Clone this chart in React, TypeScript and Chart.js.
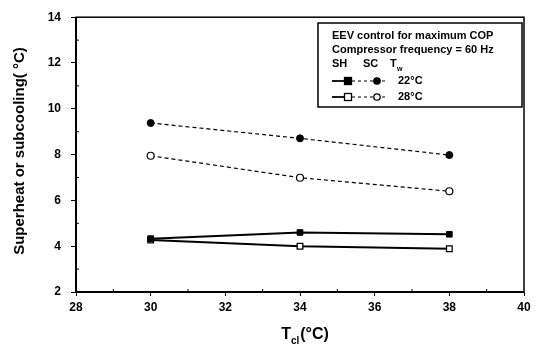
import React, { useEffect, useRef } from "react";
import { Chart, registerables } from "chart.js";

Chart.register(...registerables);

const xValues = [30, 34, 38];
const sh22 = [4.33, 4.6, 4.52];
const sc22 = [9.38, 8.71, 7.98];
const sh28 = [4.27, 4.0, 3.89];
const sc28 = [7.95, 6.99, 6.4];
const xTicks = [28, 30, 32, 34, 36, 38, 40];
const yTicks = [2, 4, 6, 8, 10, 12, 14];
const legendTitle1 = "EEV control for maximum COP";
const legendTitle2 = "Compressor frequency = 60 Hz";
const legendLabels = ["22°C", "28°C"];

const FONT = "'Liberation Sans', Arial, sans-serif";

const decorPlugin = {
  id: "decor",
  afterDraw(chart: any) {
    const ctx = chart.ctx;
    const ca = chart.chartArea;
    const xs = chart.scales.x;
    const ys = chart.scales.y;
    ctx.save();
    // frame
    ctx.strokeStyle = "#000";
    ctx.lineWidth = 1.5;
    ctx.strokeRect(ca.left, ca.top, ca.right - ca.left, ca.bottom - ca.top);
    ctx.lineWidth = 2;
    ctx.beginPath();
    ctx.moveTo(ca.left, ca.top);
    ctx.lineTo(ca.left, ca.bottom);
    ctx.lineTo(ca.right, ca.bottom);
    ctx.stroke();
    // minor ticks
    ctx.lineWidth = 1;
    for (let v = 29; v < 40; v += 2) {
      const px = xs.getPixelForValue(v);
      ctx.beginPath();
      ctx.moveTo(px, ca.bottom);
      ctx.lineTo(px, ca.bottom - 3);
      ctx.stroke();
    }
    for (let v = 3; v < 14; v += 2) {
      const py = ys.getPixelForValue(v);
      ctx.beginPath();
      ctx.moveTo(ca.left, py);
      ctx.lineTo(ca.left + 3, py);
      ctx.stroke();
    }
    // y title
    ctx.fillStyle = "#000";
    ctx.font = `bold 15px ${FONT}`;
    ctx.textAlign = "center";
    ctx.textBaseline = "middle";
    ctx.save();
    ctx.translate(20, 151);
    ctx.rotate(-Math.PI / 2);
    ctx.fillText("Superheat or subcooling( °C)", 0, 0);
    ctx.restore();
    // x title T_cl(°C)
    const cx = 305;
    ctx.textAlign = "left";
    ctx.textBaseline = "alphabetic";
    ctx.font = `bold 16px ${FONT}`;
    const tW = ctx.measureText("T").width;
    ctx.font = `bold 10px ${FONT}`;
    const subW = ctx.measureText("cl").width + 1;
    ctx.font = `bold 16px ${FONT}`;
    const restW = ctx.measureText("(°C)").width;
    const total = tW + subW + restW;
    const x0 = cx - total / 2;
    const baseY = 339;
    ctx.fillText("T", x0, baseY);
    ctx.font = `bold 10px ${FONT}`;
    ctx.fillText("cl", x0 + tW, baseY + 5);
    ctx.font = `bold 16px ${FONT}`;
    ctx.fillText("(°C)", x0 + tW + subW, baseY);

    // legend box
    const bx = 318, by = 23, bw = 204, bh = 84;
    ctx.fillStyle = "#fff";
    ctx.fillRect(bx, by, bw, bh);
    ctx.strokeStyle = "#000";
    ctx.lineWidth = 1.5;
    ctx.strokeRect(bx, by, bw, bh);
    ctx.fillStyle = "#000";
    ctx.font = `bold 11px ${FONT}`;
    ctx.textBaseline = "middle";
    ctx.textAlign = "left";
    ctx.fillText(legendTitle1, 332, 36);
    ctx.fillText(legendTitle2, 332, 50);
    ctx.fillText("SH", 332, 64);
    ctx.fillText("SC", 363, 64);
    ctx.fillText("T", 390, 64);
    ctx.font = `bold 7px ${FONT}`;
    ctx.fillText("w", 397, 69);
    ctx.font = `bold 11px ${FONT}`;
    const rows = [81, 97];
    rows.forEach((ry, i) => {
      const filled = i === 0;
      ctx.lineWidth = 1.8;
      ctx.setLineDash([]);
      ctx.beginPath();
      ctx.moveTo(332, ry);
      ctx.lineTo(352, ry);
      ctx.stroke();
      ctx.lineWidth = 1;
      ctx.setLineDash([3, 3]);
      ctx.beginPath();
      ctx.moveTo(352, ry);
      ctx.lineTo(385, ry);
      ctx.stroke();
      ctx.setLineDash([]);
      // square
      ctx.fillStyle = filled ? "#000" : "#fff";
      ctx.fillRect(344.5, ry - 3.5, 7, 7);
      ctx.lineWidth = 1.3;
      ctx.strokeRect(344.5, ry - 3.5, 7, 7);
      // circle
      ctx.beginPath();
      ctx.arc(377, ry, 3.2, 0, Math.PI * 2);
      ctx.fill();
      ctx.stroke();
      ctx.fillStyle = "#000";
      ctx.fillText(legendLabels[i], 398, ry);
    });
    ctx.restore();
  },
};

export default function App() {
  const ref = useRef<HTMLCanvasElement | null>(null);
  useEffect(() => {
    document.body.style.margin = "0";
    const toPts = (arr: number[]) => arr.map((v, i) => ({ x: xValues[i], y: v }));
    const chart = new Chart(ref.current as HTMLCanvasElement, {
      type: "scatter",
      data: {
        datasets: [
          {
            label: "SH 22",
            data: toPts(sh22),
            showLine: true,
            borderColor: "#000",
            borderWidth: 2,
            pointStyle: "rect",
            pointRadius: 4,
            pointBackgroundColor: "#000",
            pointBorderColor: "#000",
            pointBorderWidth: 1,
          },
          {
            label: "SH 28",
            data: toPts(sh28),
            showLine: true,
            borderColor: "#000",
            borderWidth: 2,
            pointStyle: "rect",
            pointRadius: 4,
            pointBackgroundColor: "#fff",
            pointBorderColor: "#000",
            pointBorderWidth: 1.3,
          },
          {
            label: "SC 22",
            data: toPts(sc22),
            showLine: true,
            borderColor: "#000",
            borderWidth: 1.2,
            borderDash: [4, 3],
            pointStyle: "circle",
            pointRadius: 3.5,
            pointBackgroundColor: "#000",
            pointBorderColor: "#000",
            pointBorderWidth: 1,
          },
          {
            label: "SC 28",
            data: toPts(sc28),
            showLine: true,
            borderColor: "#000",
            borderWidth: 1.2,
            borderDash: [4, 3],
            pointStyle: "circle",
            pointRadius: 3.5,
            pointBackgroundColor: "#fff",
            pointBorderColor: "#000",
            pointBorderWidth: 1.2,
          },
        ],
      },
      options: {
        animation: false,
        responsive: false,
        maintainAspectRatio: false,
        layout: { padding: { top: 15, right: 13, left: 0, bottom: 0 } },
        plugins: { legend: { display: false }, tooltip: { enabled: false } },
        scales: {
          x: {
            type: "linear",
            min: 28,
            max: 40,
            afterBuildTicks: (s: any) => {
              s.ticks = xTicks.map((v) => ({ value: v }));
            },
            afterFit: (s: any) => {
              s.height = 55;
            },
            grid: { display: true, drawOnChartArea: false, color: "#000", tickLength: 4, lineWidth: 1 },
            border: { display: false },
            ticks: {
              color: "#000",
              font: { family: FONT, size: 12, weight: "bold" },
              padding: 4,
              maxRotation: 0,
            },
          },
          y: {
            type: "linear",
            min: 2,
            max: 14,
            afterBuildTicks: (s: any) => {
              s.ticks = yTicks.map((v) => ({ value: v }));
            },
            afterFit: (s: any) => {
              s.width = 76;
            },
            grid: { display: true, drawOnChartArea: false, color: "#000", tickLength: 5, lineWidth: 1 },
            border: { display: false },
            ticks: {
              color: "#000",
              font: { family: FONT, size: 12, weight: "bold" },
              padding: 10,
            },
          },
        },
      },
      plugins: [decorPlugin],
    } as any);
    return () => chart.destroy();
  }, []);
  return (
    <div style={{ width: 537, height: 347, position: "relative" }}>
      <canvas ref={ref} width={537} height={347} style={{ width: 537, height: 347, display: "block" }} />
    </div>
  );
}
